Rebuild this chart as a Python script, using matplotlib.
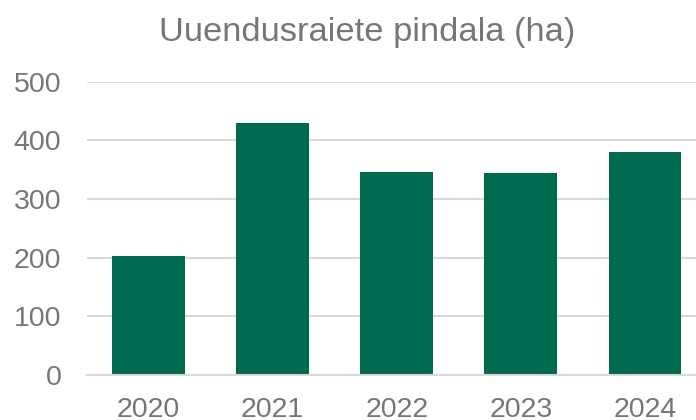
import numpy as np
import matplotlib
matplotlib.use('Agg')
import matplotlib.pyplot as plt

years = ['2020', '2021', '2022', '2023', '2024']
area_ha = [202, 430, 345, 344, 380]

title = 'Uuendusraiete pindala (ha)'
yticks = [0, 100, 200, 300, 400, 500]

plt.rcParams['font.family'] = ['Liberation Sans', 'DejaVu Sans']
txt = '#767676'
grid = '#d9d9d9'

fig = plt.figure(figsize=(6.96, 4.2), dpi=100)
# right edge runs past the figure, as in the cropped original
ax = fig.add_axes([86.5/696, 45/420, (707-86.5)/696, (375-81.5)/420])

x = np.arange(len(years))
ax.bar(x, area_ha, width=0.586, color='#006A4E', zorder=3)

ax.set_xlim(-0.5, len(years) - 0.5)
ax.set_ylim(0, 500)
ax.set_yticks(yticks)
ax.set_xticks(x)
ax.set_xticklabels(years)

ax.yaxis.grid(True, color=grid, linewidth=1.5, zorder=0)
for s in ['top', 'right', 'left']:
	ax.spines[s].set_visible(False)
ax.spines['bottom'].set_color(grid)
ax.spines['bottom'].set_linewidth(1.5)
ax.spines['bottom'].set_zorder(4)

ax.tick_params(axis='both', length=0, labelsize=20.5, labelcolor=txt)
ax.tick_params(axis='y', pad=18)
ax.tick_params(axis='x', pad=16)

fig.text(367/696, 1 - 32/420, title, ha='center', va='center', fontsize=24.8, color=txt)

fig.savefig('out.png', dpi=100)
